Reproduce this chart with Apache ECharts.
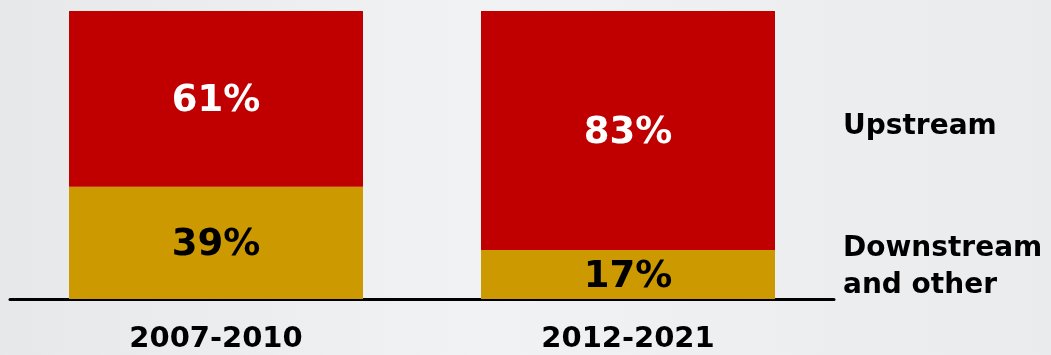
<!DOCTYPE html>
<html>
<head>
<meta charset="utf-8">
<script src="https://cdn.jsdelivr.net/npm/echarts@6/dist/echarts.min.js"></script>
<style>
html,body{margin:0;padding:0;background:#eceeef;}
#c{width:1051px;height:355px;}
</style>
</head>
<body>
<div id="c"></div>
<script>
var categories = ['2007-2010', '2012-2021'];
var downstream = [39, 17];
var upstream = [61, 83];
var seriesNames = ['Downstream\nand other', 'Upstream'];

var chart = echarts.init(document.getElementById('c'));
var font = '"DejaVu Sans", Verdana, sans-serif';
chart.setOption({
  backgroundColor: {
    type: 'linear', x: 0, y: 0, x2: 1, y2: 0,
    colorStops: [
      {offset: 0, color: '#e6e8e9'},
      {offset: 0.45, color: '#f1f2f3'},
      {offset: 1, color: '#e9ebec'}
    ]
  },
  animation: false,
  grid: {left: 10, right: 217, top: 11, bottom: 56},
  xAxis: {
    type: 'category',
    data: categories,
    axisLine: {show: true, lineStyle: {color: '#000', width: 3}},
    axisTick: {show: false},
    axisLabel: {margin: 26, color: '#000', fontFamily: font, fontWeight: 'bold', fontSize: 29}
  },
  yAxis: {type: 'value', min: 0, max: 100, show: false, splitLine: {show: false}},
  series: [
    {
      name: seriesNames[0],
      type: 'bar',
      stack: 'a',
      barWidth: 294,
      data: downstream,
      itemStyle: {color: '#CC9900'},
      label: {show: true, position: 'inside', formatter: '{c}%', color: '#000', fontFamily: font, fontWeight: 'bold', fontSize: 37, offset: [0, 3]},
      markPoint: {
        symbol: 'circle', symbolSize: 0,
        data: [{coord: [1, downstream[1] / 2]}],
        label: {show: true, position: 'inside', formatter: seriesNames[0], align: 'left', offset: [215, -7], color: '#000', fontFamily: font, fontWeight: 'bold', fontSize: 28, lineHeight: 37}
      }
    },
    {
      name: seriesNames[1],
      type: 'bar',
      stack: 'a',
      barWidth: 294,
      data: upstream,
      itemStyle: {color: '#C00000'},
      label: {show: true, position: 'inside', formatter: '{c}%', color: '#fff', fontFamily: font, fontWeight: 'bold', fontSize: 37, offset: [0, 3]},
      markPoint: {
        symbol: 'circle', symbolSize: 0,
        data: [{coord: [1, downstream[1] + upstream[1] / 2]}],
        label: {show: true, position: 'inside', formatter: seriesNames[1], align: 'left', offset: [215, -4], color: '#000', fontFamily: font, fontWeight: 'bold', fontSize: 28}
      }
    }
  ]
});
</script>
</body>
</html>
